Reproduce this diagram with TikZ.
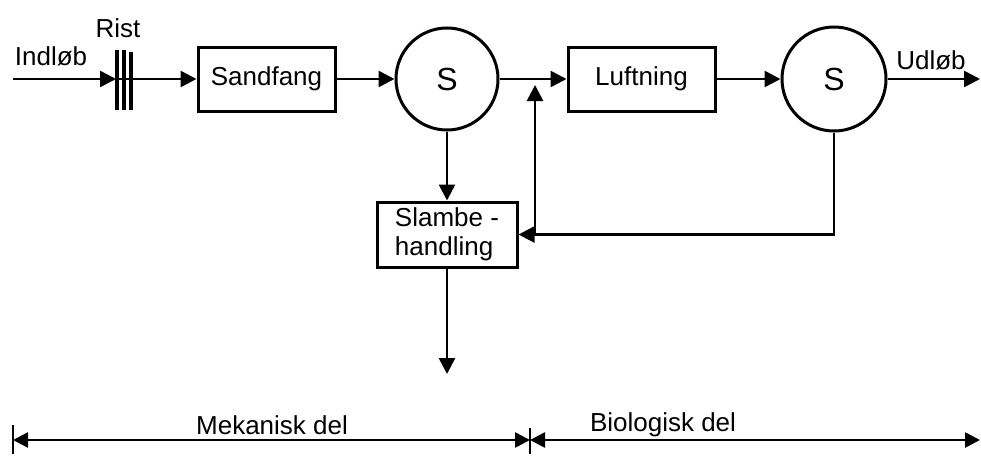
\documentclass[tikz,border=0pt]{standalone}
\usepackage{fontspec}
\setmainfont{Liberation Sans}
\usetikzlibrary{arrows.meta}
\begin{document}
\begin{tikzpicture}[x=1pt,y=-1pt,
  lbl/.style={font=\fontsize{26}{29}\selectfont, inner sep=0pt},
  box/.style={draw, line width=3pt, rectangle, font=\fontsize{26}{29}\selectfont, inner sep=4pt},
  sep/.style={draw, line width=3pt, circle, minimum size=102pt, inner sep=0pt, font=\fontsize{32}{36}\selectfont},
  flow/.style={line width=2.6pt, -{Triangle[length=16pt,width=16pt]}},
  dim/.style={line width=2.6pt, {Triangle[length=15pt,width=15pt]}-{Triangle[length=15pt,width=15pt]}},
  bar/.style={line width=3.2pt}]
\useasboundingbox (0,0) rectangle (981,455);
% main nodes
\node[box, minimum width=137pt, minimum height=64pt] (sand) at (266.5,79) {Sandfang};
\node[sep] (s1) at (447,79) {S};
\node[box, minimum width=147pt, minimum height=64pt] (luft) at (641.5,79) {Luftning};
\node[sep, minimum size=104pt] (s2) at (834,79) {S};
\node[box, minimum width=140pt, minimum height=65pt, align=left] (slam) at (447,234.5) {Slambe -\\handling};
% coordinates
\coordinate (inl) at (13,79);
\coordinate (rist) at (116,79);
\coordinate (ud) at (980,79);
\coordinate (out) at (447,374);
\coordinate (junc) at (535,85);
\coordinate (fb) at (535,234.5);
% labels
\node[lbl] (tind) at (51,56) {Indløb};
\node[lbl] (trist) at (118,28) {Rist};
\node[lbl] (tud) at (931,60) {Udløb};
% rist bars
\draw[bar] (117,50) -- (117,110);
\draw[bar] (124,50) -- (124,110);
\draw[bar] (131,52) -- (131,110);
% flows
\draw[flow] (inl) -- (rist);
\draw[flow] (rist) -- (sand.west);
\draw[flow] (sand.east) -- (s1.west);
\draw[flow] (s1.east) -- (luft.west);
\draw[flow] (luft.east) -- (s2.west);
\draw[flow] (s2.east) -- (ud);
\draw[flow] (s1.south) -- (slam.north);
\draw[flow] (slam.south) -- (out);
\draw[flow] (s2.south) |- (slam.east);
\draw[flow] (fb) -- (junc);
% dimension line
\coordinate (dl) at (13,440);
\coordinate (dm) at (530,440);
\coordinate (dr) at (980,440);
\draw[line width=2.6pt] (13,425) -- (13,454);
\draw[line width=2pt] (530,428) -- (530,454);
\draw[dim] (dl) -- (dm);
\draw[dim] (dm) -- (dr);
\node[lbl] (tmek) at (272,425) {Mekanisk del};
\node[lbl] (tbio) at (663,425) {Biologisk del};
\end{tikzpicture}
\end{document}
